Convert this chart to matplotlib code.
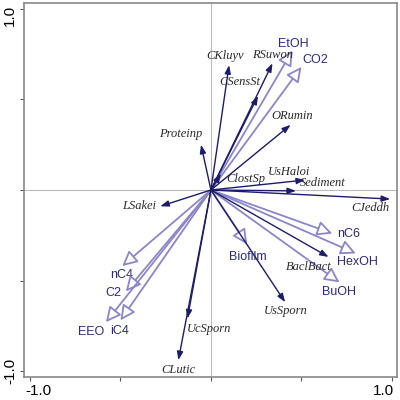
import matplotlib.pyplot as plt
import matplotlib.transforms as mtransforms

# species scores (dark arrows)
species = ["CKluyv", "RSuwon", "CSensSt", "ORumin", "Proteinp", "ClostSp", "UsHaloi",
           "Sediment", "CJeddh", "LSakei", "UcSporn", "CLutic", "UsSporn", "BaclBact"]
sp_x = [0.10, 0.34, 0.26, 0.44, -0.055, 0.055, 0.52, 0.47, 0.99, -0.28, -0.13, -0.18, 0.41, 0.65]
sp_y = [0.69, 0.70, 0.52, 0.36, 0.25, 0.09, 0.055, -0.005, -0.05, -0.09, -0.71, -0.94, -0.62, -0.37]

# environmental variables (open arrows)
env = ["EtOH", "CO2", "nC6", "HexOH", "BuOH", "Biofilm", "nC4", "C2", "EEO", "iC4"]
env_x = [0.45, 0.50, 0.67, 0.80, 0.71, 0.20, -0.49, -0.47, -0.58, -0.50]
env_y = [0.77, 0.68, -0.24, -0.35, -0.51, -0.30, -0.42, -0.56, -0.73, -0.72]

# label offsets in pixels (layout only)
sp_off = {"CKluyv": (-4, 9), "RSuwon": (0, 8), "CSensSt": (-18, 14), "ORumin": (2, 9),
          "Proteinp": (-20, 11), "ClostSp": (25, -5), "UsHaloi": (-16, 8), "Sediment": (27, 8),
          "CJeddh": (-20, -9), "LSakei": (-21, 0), "UcSporn": (22, -10), "CLutic": (0, -10),
          "UsSporn": (1, -9), "BaclBact": (-20, -10)}
env_off = {"EtOH": (1, 7), "CO2": (14, 7), "nC6": (16, -1), "HexOH": (2, -9), "BuOH": (0, -10),
           "Biofilm": (1, -13), "nC4": (-1, -9), "C2": (-13, -2), "EEO": (-15, -10), "iC4": (-1, -11)}

sp_col = "#1c1c6b"
env_col = "#8a86c8"
env_txt = "#2b2b7a"

fig = plt.figure(figsize=(4, 4), dpi=100)
ax = fig.add_axes([0.06, 0.0575, 0.9325, 0.935])
ax.set_xlim(-1.033, 1.028)
ax.set_ylim(-1.033, 1.033)

ax.axhline(0, color="#bbbbbb", lw=0.8, zorder=0)
ax.axvline(0, color="#bbbbbb", lw=0.8, zorder=0)

for name, x, y in zip(env, env_x, env_y):
    ax.annotate("", xy=(x, y), xytext=(0, 0),
                arrowprops=dict(arrowstyle="-|>,head_length=0.9,head_width=0.45",
                                ec=env_col, fc="white", lw=1.3, shrinkA=0, shrinkB=0))
    dx, dy = env_off[name]
    ax.annotate(name, xy=(x, y), xytext=(dx, dy), textcoords="offset pixels",
                ha="center", va="center", fontsize=9, color=env_txt,
                family="Liberation Sans")

for name, x, y in zip(species, sp_x, sp_y):
    ax.annotate("", xy=(x, y), xytext=(0, 0),
                arrowprops=dict(arrowstyle="-|>,head_length=0.5,head_width=0.18",
                                ec=sp_col, fc=sp_col, lw=1.0, shrinkA=0, shrinkB=0))
    dx, dy = sp_off[name]
    ax.annotate(name, xy=(x, y), xytext=(dx, dy), textcoords="offset pixels",
                ha="center", va="center", fontsize=9, color="#2a2a2a",
                family="Liberation Serif", style="italic")

ticks = [-1.0, -0.5, 0.0, 0.5, 1.0]
labels = ["-1.0", "", "", "", "1.0"]
ax.set_xticks(ticks)
ax.set_xticklabels(labels, fontsize=11, family="Liberation Sans")
ax.set_yticks(ticks)
ax.set_yticklabels(labels, fontsize=11, family="Liberation Sans", rotation=90, va="center")
ax.tick_params(length=3, width=0.8, color="#555555", pad=2)
for s in ax.spines.values():
    s.set_color("#888888")
    s.set_linewidth(1.2)

# nudge the end labels inward like the original
xl = ax.get_xticklabels()
xl[0].set_transform(xl[0].get_transform() + mtransforms.ScaledTranslation(6 / 72, 0, fig.dpi_scale_trans))
xl[-1].set_transform(xl[-1].get_transform() + mtransforms.ScaledTranslation(-6 / 72, 0, fig.dpi_scale_trans))
yl = ax.get_yticklabels()
yl[-1].set_transform(yl[-1].get_transform() + mtransforms.ScaledTranslation(0, -5 / 72, fig.dpi_scale_trans))

fig.savefig("out.png", dpi=100)
